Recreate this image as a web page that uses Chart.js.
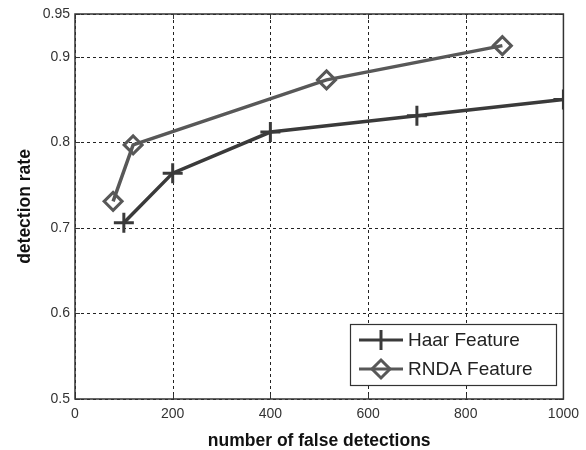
<!DOCTYPE html>
<html>
<head>
<meta charset="utf-8">
<script src="https://cdn.jsdelivr.net/npm/chart.js@4/dist/chart.umd.min.js"></script>
<style>
  html, body { margin: 0; padding: 0; background: #fff; }
  #wrap { width: 586px; height: 450px; }
</style>
</head>
<body>
<div id="wrap"><canvas id="rocChart" width="586" height="450"></canvas></div>
<script>
// values
const haarX = [100, 200, 400, 700, 1000];
const haarY = [0.706, 0.764, 0.812, 0.831, 0.850];
const rndaX = [78, 119, 515, 875];
const rndaY = [0.731, 0.797, 0.873, 0.913];
const xTicks = [0, 200, 400, 600, 800, 1000];
const yTicks = [0.5, 0.6, 0.7, 0.8, 0.9, 0.95];

const FONT = "'Liberation Sans', Arial, sans-serif";

// dotted grid, drawn under the lines
const gridPlugin = {
    id: 'dashgrid',
    beforeDatasetsDraw(chart) {
        const ctx = chart.ctx;
        const a = chart.chartArea;
        const xs = chart.scales.x, ys = chart.scales.y;
        ctx.save();
        ctx.strokeStyle = '#222';
        ctx.lineWidth = 1;
        ctx.setLineDash([3, 3]);
        ctx.beginPath();
        for (let v of xTicks) {
            const px = Math.round(xs.getPixelForValue(v)) + 0.5;
            ctx.moveTo(px, a.top); ctx.lineTo(px, a.bottom);
        }
        for (let v of yTicks) {
            const py = Math.round(ys.getPixelForValue(v)) + 0.5;
            ctx.moveTo(a.left, py); ctx.lineTo(a.right, py);
        }
        ctx.stroke();
        ctx.restore();
    }
};

// box round the plot, inner ticks and the legend
const framePlugin = {
    id: 'frame',
    afterDraw(chart) {
        const ctx = chart.ctx;
        const a = chart.chartArea;
        const xs = chart.scales.x, ys = chart.scales.y;
        ctx.save();
        ctx.strokeStyle = '#333';
        ctx.lineWidth = 1.5;
        ctx.strokeRect(a.left, a.top, a.right - a.left, a.bottom - a.top);
        ctx.lineWidth = 1;
        ctx.beginPath();
        for (let v of xTicks) {
            const px = Math.round(xs.getPixelForValue(v)) + 0.5;
            ctx.moveTo(px, a.bottom); ctx.lineTo(px, a.bottom - 5);
            ctx.moveTo(px, a.top); ctx.lineTo(px, a.top + 5);
        }
        for (let v of yTicks) {
            const py = Math.round(ys.getPixelForValue(v)) + 0.5;
            ctx.moveTo(a.left, py); ctx.lineTo(a.left + 5, py);
            ctx.moveTo(a.right, py); ctx.lineTo(a.right - 5, py);
        }
        ctx.stroke();

        // legend
        const bx = 350, by = 324, bw = 206, bh = 61;
        ctx.fillStyle = '#fff';
        ctx.fillRect(bx, by, bw, bh);
        ctx.strokeStyle = '#333';
        ctx.lineWidth = 1.2;
        ctx.strokeRect(bx + 0.5, by + 0.5, bw, bh);
        ctx.font = '19px ' + FONT;
        ctx.textBaseline = 'middle';
        chart.data.datasets.forEach((ds, i) => {
            const cy = by + 16 + i * 29;
            ctx.strokeStyle = ds.borderColor;
            ctx.lineWidth = 3;
            ctx.beginPath();
            ctx.moveTo(bx + 9, cy); ctx.lineTo(bx + 53, cy);
            ctx.stroke();
            ctx.beginPath();
            const r = ds.pointRadius;
            if (ds.pointStyle === 'cross') {
                ctx.moveTo(bx + 31, cy - r); ctx.lineTo(bx + 31, cy + r);
            } else {
                ctx.moveTo(bx + 31, cy - r); ctx.lineTo(bx + 31 + r, cy);
                ctx.lineTo(bx + 31, cy + r); ctx.lineTo(bx + 31 - r, cy);
                ctx.closePath();
            }
            ctx.stroke();
            ctx.fillStyle = '#222';
            ctx.fillText(ds.label, bx + 58, cy + 1);
        });
        ctx.restore();
    }
};

new Chart("rocChart", {
    type: "scatter",
    data: {
        datasets: [{
            label: "Haar Feature",
            data: haarX.map((x, i) => ({ x: x, y: haarY[i] })),
            showLine: true,
            borderColor: "#3a3a3a",
            backgroundColor: "transparent",
            borderWidth: 3.5,
            pointStyle: "cross",
            pointRadius: 10,
            pointBorderWidth: 3,
            pointBorderColor: "#3a3a3a"
        }, {
            label: "RNDA Feature",
            data: rndaX.map((x, i) => ({ x: x, y: rndaY[i] })),
            showLine: true,
            borderColor: "#585858",
            backgroundColor: "transparent",
            borderWidth: 3.5,
            pointStyle: "rectRot",
            pointRadius: 9,
            pointBorderWidth: 3,
            pointBorderColor: "#585858"
        }]
    },
    options: {
        responsive: false,
        animation: false,
        layout: { padding: { left: 0, right: 22, top: 14, bottom: 0 } },
        plugins: {
            legend: { display: false },
            tooltip: { enabled: false }
        },
        scales: {
            x: {
                type: 'linear',
                min: 0,
                max: 1000,
                afterBuildTicks: scale => { scale.ticks = xTicks.map(v => ({ value: v })); },
                afterFit: scale => { scale.height = 51; },
                ticks: {
                    color: '#333',
                    font: { family: FONT, size: 14 },
                    padding: 7,
                    maxRotation: 0,
                    callback: v => String(v)
                },
                grid: { display: true, drawOnChartArea: false, drawTicks: false, color: 'transparent' },
                border: { display: false },
                title: {
                    display: true,
                    text: 'number of false detections',
                    color: '#111',
                    font: { family: FONT, size: 17.5, weight: 'bold', lineHeight: 1 },
                    padding: { top: 0, bottom: 0 }
                }
            },
            y: {
                type: 'linear',
                min: 0.5,
                max: 0.95,
                afterBuildTicks: scale => { scale.ticks = yTicks.map(v => ({ value: v })); },
                afterFit: scale => { scale.width = 75; },
                ticks: {
                    color: '#333',
                    font: { family: FONT, size: 14 },
                    padding: 5,
                    callback: v => String(v)
                },
                grid: { display: true, drawOnChartArea: false, drawTicks: false, color: 'transparent' },
                border: { display: false },
                title: {
                    display: true,
                    text: 'detection rate',
                    color: '#111',
                    font: { family: FONT, size: 17.5, weight: 'bold' },
                    padding: { top: 15, bottom: 0 }
                }
            }
        }
    },
    plugins: [gridPlugin, framePlugin]
});
</script>
</body>
</html>
